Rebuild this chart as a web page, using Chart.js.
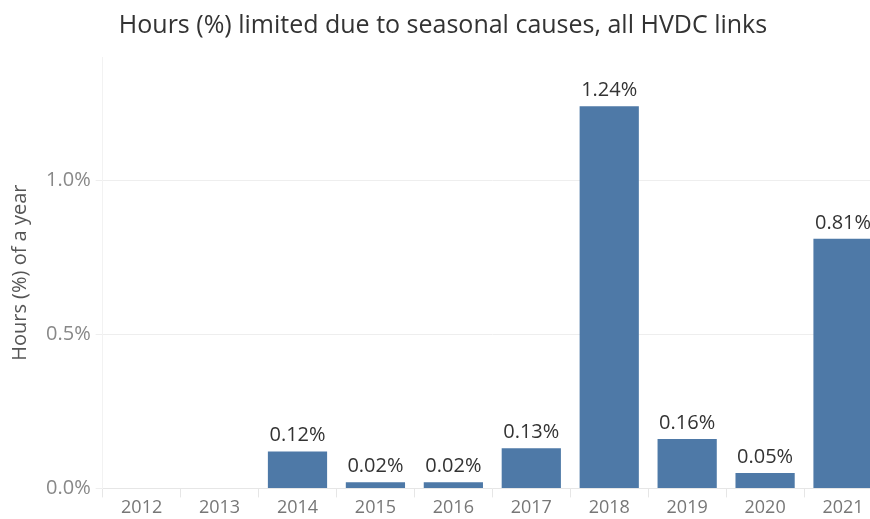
<!DOCTYPE html>
<html>
<head>
<meta charset="utf-8">
<script src="https://cdn.jsdelivr.net/npm/chart.js@4/dist/chart.umd.min.js"></script>
<style>
  html, body { margin: 0; padding: 0; background: #fff; overflow: hidden; }
  #wrap { width: 882px; height: 519px; position: relative; }
</style>
</head>
<body>
<div id="wrap"><canvas id="chart"></canvas></div>
<script>
// Share of hours per year limited by seasonal causes, all HVDC links
const years = ['2012', '2013', '2014', '2015', '2016', '2017', '2018', '2019', '2020', '2021'];
const hoursPct = [null, null, 0.12, 0.02, 0.02, 0.13, 1.24, 0.16, 0.05, 0.81];
const yTicks = [0, 0.5, 1.0];

const FONT = '"Open Sans", "Noto Sans", sans-serif';

// Writes the value above each bar
const valueLabels = {
  id: 'valueLabels',
  afterDatasetsDraw(chart) {
    const ctx = chart.ctx;
    const meta = chart.getDatasetMeta(0);
    ctx.save();
    ctx.font = '20px ' + FONT;
    ctx.fillStyle = '#333333';
    ctx.textAlign = 'center';
    ctx.textBaseline = 'alphabetic';
    meta.data.forEach((bar, i) => {
      const v = hoursPct[i];
      if (v === null || v === undefined) return;
      ctx.fillText(v.toFixed(2) + '%', bar.x, bar.y - 10);
    });
    ctx.restore();
  }
};

new Chart(document.getElementById('chart'), {
  type: 'bar',
  data: {
    labels: years,
    datasets: [{
      data: hoursPct,
      backgroundColor: '#4e79a7',
      borderWidth: 0,
      barPercentage: 0.76,
      categoryPercentage: 1.0
    }]
  },
  options: {
    responsive: true,
    maintainAspectRatio: false,
    animation: false,
    layout: { padding: { top: 0, right: 0, bottom: 0, left: 4 } },
    plugins: {
      legend: { display: false },
      tooltip: { enabled: false },
      title: {
        display: true,
        text: 'Hours (%) limited due to seasonal causes, all HVDC links',
        color: '#333333',
        font: { family: FONT, size: 25, weight: 'normal' },
        padding: { top: 11, bottom: 16 }
      }
    },
    scales: {
      x: {
        offset: true,
        grid: {
          offset: true,
          drawOnChartArea: false,
          drawTicks: true,
          tickLength: 9,
          color: '#e6e6e6'
        },
        border: { display: true, color: '#e6e6e6' },
        ticks: {
          color: '#777777',
          font: { family: FONT, size: 18 },
          padding: 0,
          maxRotation: 0
        }
      },
      y: {
        min: 0,
        max: 1.4,
        afterBuildTicks(scale) {
          scale.ticks = yTicks.map(v => ({ value: v }));
        },
        grid: {
          color: '#eeeeee',
          tickLength: 7
        },
        border: { display: true, color: '#f2f2f2' },
        ticks: {
          color: '#888888',
          font: { family: FONT, size: 20 },
          padding: 5,
          callback: v => Number(v).toFixed(1) + '%'
        },
        title: {
          display: true,
          text: 'Hours (%) of a year',
          color: '#555555',
          font: { family: FONT, size: 20 },
          padding: { top: 4, bottom: 9 }
        }
      }
    }
  },
  plugins: [valueLabels]
});
</script>
</body>
</html>
